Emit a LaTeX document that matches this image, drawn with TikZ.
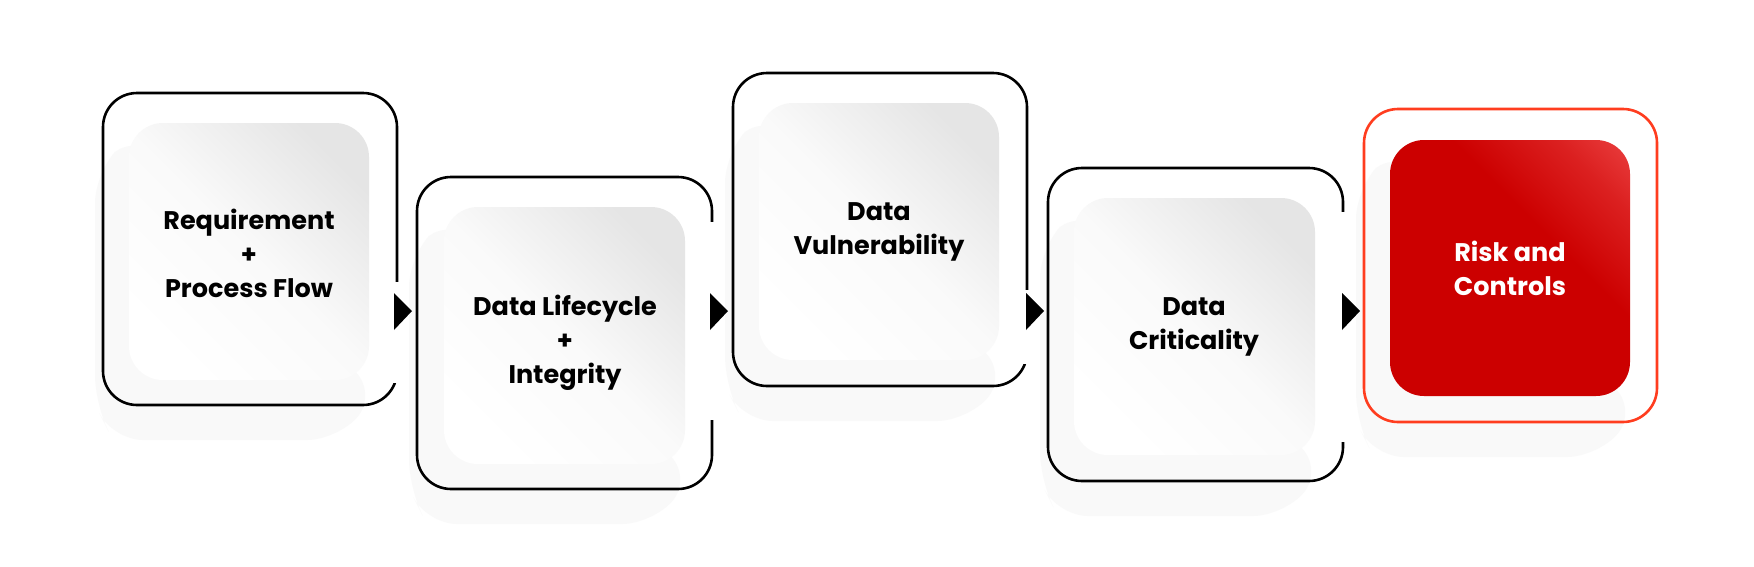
\documentclass[tikz,border=0pt]{standalone}
\usepackage{fontspec}
\setmainfont{Poppins}[BoldFont={* Bold}]
\usetikzlibrary{shapes.geometric}
\definecolor{redA}{HTML}{CC0000}
\definecolor{redB}{HTML}{FF6A6A}
\definecolor{redline}{HTML}{FF3D1F}
\definecolor{shd}{HTML}{F2F2F2}
\pgfdeclareverticalshading{redcorner}{100bp}{color(0bp)=(redA); color(60bp)=(redA); color(75bp)=(redA!70!redB); color(100bp)=(redB)}
\tikzset{
  outer/.style={draw=black,line width=2.6pt,rounded corners=34pt},
  inner/.style={rounded corners=34pt,top color=gray!20,bottom color=white,middle color=white!96!gray,shading angle=315},
  lbl/.style={font=\bfseries\fontsize{25.5}{34}\selectfont,align=center,text=black},
  tri/.style={fill=black},
}
\begin{document}
\begin{tikzpicture}[x=1pt,y=-1pt]
\useasboundingbox (0,0) rectangle (1754,566);
\fill[white] (0,0) rectangle (1754,566);
% shadows
\foreach \a/\b/\c/\d in {103/93/397/405, 417/177/712/489, 733/73/1027/386, 1048/168/1343/481, 1364/109/1657/422}{
  \fill[shd,opacity=0.45,rounded corners=30pt] (\a+30,\b+40) -- (\c-20,\d-10) -- (\c-60,\d+35) -- (\a+10,\d+35) -- (\a-8,\d) -- (\a-8,\b+80) -- cycle;
}
% outer boxes
\draw[outer] (103,93) rectangle (397,405);
\draw[outer] (417,177) rectangle (712,489);
\draw[outer] (733,73) rectangle (1027,386);
\draw[outer] (1048,168) rectangle (1343,481);
\draw[outer,draw=redline] (1364,109) rectangle (1657,422);
% gaps in right borders
\fill[white] (390,282) rectangle (405,383);
\fill[white] (705,222) rectangle (720,420);
\fill[white] (1020,290) rectangle (1035,364);
\fill[white] (1336,212) rectangle (1351,442);
% inner boxes
\shade[inner] (129,123) rectangle (369,380);
\shade[inner] (444,207) rectangle (685,464);
\shade[inner] (759,103) rectangle (999,360);
\shade[inner] (1074,198) rectangle (1315,455);
\shade[rounded corners=34pt,shading=redcorner,shading angle=315] (1390,140) rectangle (1630,396);
% labels
\node[lbl] (n1) at (249,253) {Requirement\\+\\Process Flow};
\node[lbl] (n2) at (565,343) {Data Lifecycle\\+\\Integrity};
\node[lbl] (n3) at (879,232) {Data\\Vulnerability};
\node[lbl] (n4) at (1194,327) {Data\\Criticality};
\node[lbl,text=white] (n5) at (1510,268) {Risk and\\Controls};
% arrows
\foreach \x in {394,710,1026,1342}{
  \fill[tri] (\x,293) -- (\x+18,311) -- (\x,330) -- cycle;
}
\end{tikzpicture}
\end{document}
